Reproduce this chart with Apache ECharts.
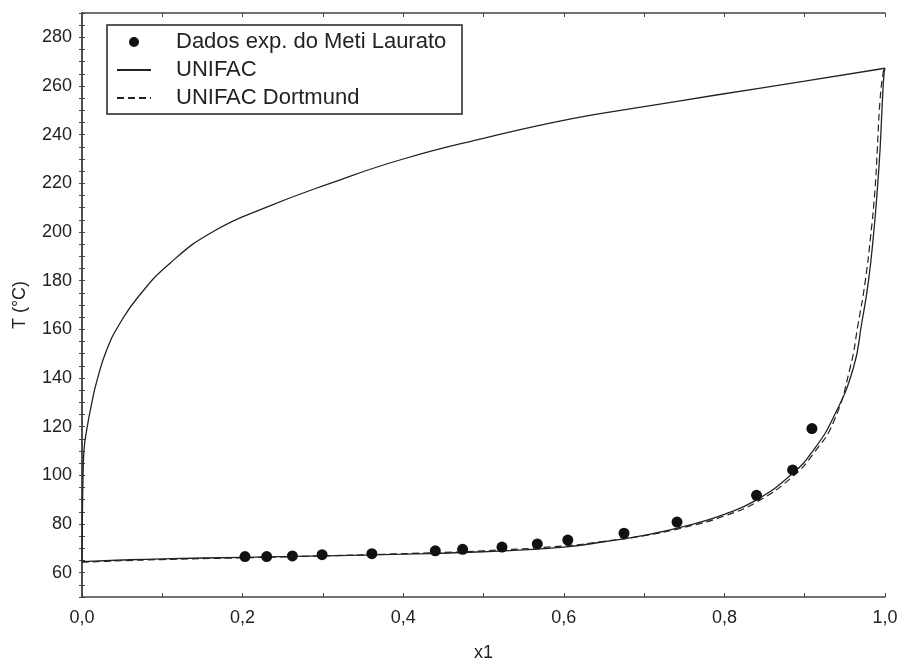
<!DOCTYPE html>
<html><head><meta charset="utf-8">
<script src="https://cdn.jsdelivr.net/npm/echarts@6/dist/echarts.min.js"></script>
<style>html,body{margin:0;padding:0;background:#fff}#c{width:901px;height:663px}</style>
</head><body><div id="c"></div>
<script>
// Experimental data (x1, T °C)
const expX = [0.203, 0.230, 0.262, 0.299, 0.361, 0.440, 0.474, 0.523, 0.567, 0.605, 0.675, 0.741, 0.840, 0.885, 0.909];
const expT = [66.6, 66.6, 66.9, 67.4, 67.8, 69.0, 69.6, 70.5, 71.8, 73.4, 76.2, 80.8, 91.8, 102.2, 119.2];

// UNIFAC dew curve
const unifacDewX = [0, 0.0004, 0.0012, 0.0025, 0.0058, 0.0121, 0.0183, 0.0307, 0.0473, 0.0701, 0.1096, 0.1635, 0.23, 0.309, 0.4, 0.5, 0.612, 0.7, 0.79, 0.9, 1.0];
const unifacDewT = [64.5, 80, 98, 110.4, 118.6, 129.6, 138.5, 151.5, 162.5, 173.4, 187.2, 200.2, 210.2, 220, 230, 238.5, 246.7, 251.5, 256.3, 262, 267.3];

// UNIFAC bubble curve
const unifacBubX = [0, 0.05, 0.1, 0.2, 0.3, 0.4, 0.5, 0.6, 0.65, 0.7, 0.75, 0.8, 0.84, 0.885, 0.911, 0.936, 0.9605, 0.971, 0.979, 0.9855, 0.9904, 0.9938, 0.9966, 0.9988, 1.0];
const unifacBubT = [64.5, 65.2, 65.7, 66.3, 66.9, 67.6, 68.6, 70.5, 72.7, 75.3, 79, 84, 89.9, 100.8, 110.4, 124, 144, 162.5, 178.9, 198.1, 217.3, 233.7, 252.9, 265.2, 267.3];

// UNIFAC Dortmund bubble curve
const dortBubX = [0, 0.05, 0.1, 0.2, 0.3, 0.4, 0.5, 0.6, 0.65, 0.7, 0.75, 0.8, 0.84, 0.885, 0.911, 0.936, 0.9564, 0.9667, 0.975, 0.982, 0.9875, 0.9904, 0.9938, 0.998, 1.0];
const dortBubT = [64.3, 64.9, 65.4, 66.1, 66.9, 67.8, 69.0, 71.0, 72.9, 75.2, 78.6, 83.3, 89.0, 99.5, 109, 122, 144, 162.5, 178.9, 198, 217.3, 233.7, 254, 266, 267.3];

const legendNames = ['Dados exp. do Meti Laurato', 'UNIFAC', 'UNIFAC Dortmund'];

const zip = (xs, ys) => xs.map((x, i) => [x, ys[i]]);
const FONT = 'Liberation Sans, Arial, sans-serif';
const INK = '#222';
const AX = '#444';

const chart = echarts.init(document.getElementById('c'), null, {renderer: 'canvas'});

const xCommon = {
  type: 'value', min: 0, max: 1, interval: 0.1,
  axisLine: {show: true, lineStyle: {color: AX, width: 1.5}},
  axisTick: {show: true, inside: true, length: 4, lineStyle: {color: AX}},
  splitLine: {show: false}
};
const yCommon = {
  type: 'value', min: 50, max: 290, interval: 5,
  axisLine: {show: true, lineStyle: {color: AX, width: 1.5}},
  axisTick: {show: true, inside: true, length: 3, lineStyle: {color: AX}},
  splitLine: {show: false}
};

chart.setOption({
  animation: false,
  backgroundColor: '#fff',
  color: [INK, INK, INK, INK],
  grid: {left: 82, top: 13, right: 16, bottom: 66, containLabel: false, outerBoundsMode: 'none'},
  graphic: [{
    type: 'rect', z: 3,
    shape: {x: 107, y: 25, width: 355, height: 89},
    style: {fill: '#fff', stroke: INK, lineWidth: 1.5}
  }],
  legend: {
    data: [
      {name: legendNames[0], itemStyle: {color: '#111', opacity: 1}},
      {name: legendNames[1], itemStyle: {opacity: 0}},
      {name: legendNames[2], itemStyle: {opacity: 0}}
    ],
    orient: 'vertical', left: 116, top: 31, padding: 0, itemGap: 6,
    itemWidth: 34, itemHeight: 10, z: 10,
    textStyle: {fontFamily: FONT, fontSize: 22, color: INK, lineHeight: 22, padding: [0, 0, 0, 20]}
  },
  xAxis: [
    Object.assign({}, xCommon, {
      position: 'bottom',
      name: 'x1', nameLocation: 'middle', nameGap: 47,
      nameTextStyle: {fontFamily: FONT, fontSize: 18, color: INK},
      axisLabel: {
        margin: 12, fontFamily: FONT, fontSize: 18, color: INK,
        formatter: v => (Math.round(v * 10) % 2 === 0) ? v.toFixed(1).replace('.', ',') : ''
      }
    }),
    Object.assign({}, xCommon, {position: 'top', axisLabel: {show: false}})
  ],
  yAxis: [
    Object.assign({}, yCommon, {
      position: 'left',
      name: 'T (°C)', nameLocation: 'middle', nameGap: 53,
      nameTextStyle: {fontFamily: FONT, fontSize: 18, color: INK},
      axisLabel: {
        margin: 10, fontFamily: FONT, fontSize: 18, color: INK,
        formatter: v => (v % 20 === 0 && v >= 60 && v <= 280) ? String(v) : ''
      }
    }),
    Object.assign({}, yCommon, {position: 'right', axisLabel: {show: false}})
  ],
  series: [
    {
      name: legendNames[0], type: 'scatter', symbol: 'circle', symbolSize: 11,
      itemStyle: {color: '#111', opacity: 1}, z: 5,
      data: zip(expX, expT)
    },
    {
      name: legendNames[1], type: 'line', symbol: 'none', smooth: true,
      itemStyle: {color: INK},
      lineStyle: {color: INK, width: 1.3, type: 'solid'},
      data: zip(unifacDewX, unifacDewT)
    },
    {
      name: legendNames[1], type: 'line', symbol: 'none', smooth: true,
      itemStyle: {color: INK},
      lineStyle: {color: INK, width: 1.3, type: 'solid'},
      data: zip(unifacBubX, unifacBubT)
    },
    {
      name: legendNames[2], type: 'line', symbol: 'none', smooth: true,
      itemStyle: {color: INK},
      lineStyle: {color: INK, width: 1.2, type: [7, 4]},
      data: zip(dortBubX, dortBubT)
    }
  ]
});
</script>
</body></html>
